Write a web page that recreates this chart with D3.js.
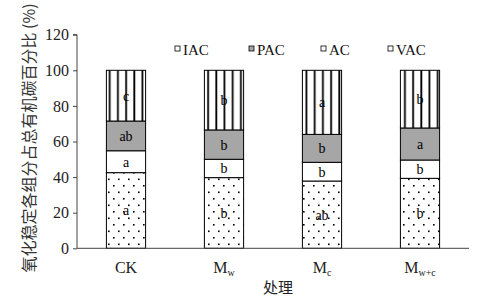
<!DOCTYPE html>
<html>
<head>
<meta charset="utf-8">
<script src="https://cdn.jsdelivr.net/npm/d3@7"></script>
<style>
  body { margin: 0; background: #fff; }
  svg text { font-family: "Liberation Serif", "Times New Roman", serif; }
</style>
</head>
<body>
<div id="chart"></div>
<script>
// data (cumulative stack of % of total organic carbon)
var treatments = ["CK", "Mw", "Mc", "Mw+c"];
var layers = ["VAC", "AC", "PAC", "IAC"];
var VAC = [42.5, 39.7, 37.8, 39.3];
var AC  = [12.3, 10.3, 10.5, 10.3];
var PAC = [16.7, 16.5, 15.7, 18.0];
var IAC = [28.5, 33.5, 36.0, 32.4];
var letters = {
  VAC: ["a", "b", "ab", "b"],
  AC:  ["a", "b", "b", "b"],
  PAC: ["ab", "b", "b", "a"],
  IAC: ["c", "b", "a", "b"]
};
var legendOrder = ["IAC", "PAC", "AC", "VAC"];
var yTicks = [0, 20, 40, 60, 80, 100, 120];

var W = 480, H = 300;
var svg = d3.select("#chart").append("svg").attr("width", W).attr("height", H);

var x = d3.scaleBand().domain(treatments).range([77, 469]).paddingInner(0.6).paddingOuter(0.3);
var y = d3.scaleLinear().domain([0, 120]).range([248.3, 34.7]);

// patterns
var defs = svg.append("defs");
var stripe = defs.append("pattern").attr("id", "stripes")
  .attr("patternUnits", "userSpaceOnUse").attr("width", 8.2).attr("height", 10).attr("x", 1);
stripe.append("rect").attr("width", 8.2).attr("height", 10).attr("fill", "#fff");
stripe.append("rect").attr("x", 1.2).attr("width", 1.8).attr("height", 10).attr("fill", "#000");

var dots = defs.append("pattern").attr("id", "dots")
  .attr("patternUnits", "userSpaceOnUse").attr("width", 10).attr("height", 13).attr("x", 2).attr("y", 2);
dots.append("rect").attr("width", 10).attr("height", 13).attr("fill", "#fff");
dots.append("rect").attr("x", 1).attr("y", 1).attr("width", 1.6).attr("height", 1.6).attr("fill", "#000");
dots.append("rect").attr("x", 6).attr("y", 7.5).attr("width", 1.6).attr("height", 1.6).attr("fill", "#000");

var fills = { VAC: "url(#dots)", AC: "#fff", PAC: "#a6a6a6", IAC: "url(#stripes)" };
var series = { VAC: VAC, AC: AC, PAC: PAC, IAC: IAC };

var rows = treatments.map(function(t, i) {
  var r = { t: t };
  layers.forEach(function(l) { r[l] = series[l][i]; });
  return r;
});
var stack = d3.stack().keys(layers)(rows);

var g = svg.append("g");
stack.forEach(function(s) {
  var key = s.key;
  g.selectAll(".seg-" + key).data(s).enter().append("rect")
    .attr("x", function(d) { return x(d.data.t); })
    .attr("width", x.bandwidth())
    .attr("y", function(d) { return y(d[1]); })
    .attr("height", function(d) { return y(d[0]) - y(d[1]); })
    .attr("fill", fills[key])
    .attr("stroke", "#000").attr("stroke-width", 1);
  g.selectAll(".lab-" + key).data(s).enter().append("text")
    .attr("x", function(d) { return x(d.data.t) + x.bandwidth() / 2; })
    .attr("y", function(d) { return (y(d[0]) + y(d[1])) / 2 + 5; })
    .attr("text-anchor", "middle")
    .attr("font-size", 14)
    .attr("fill", "#000")
    .text(function(d, i) { return letters[key][i]; });
});

// axes
var yAxis = svg.append("g").attr("transform", "translate(77,0)")
  .call(d3.axisLeft(y).tickValues(yTicks).tickSize(4).tickPadding(4));
yAxis.selectAll("text").attr("font-size", 16).attr("fill", "#222")
  .style("font-family", "Liberation Serif, serif");
yAxis.selectAll("line,path").attr("stroke", "#444");
yAxis.select(".domain").attr("d", "M-4," + y(120) + "H0V" + y(0));

svg.append("line").attr("x1", 77).attr("x2", 469).attr("y1", y(0)).attr("y2", y(0))
  .attr("stroke", "#444");

// x labels with subscripts
var xl = svg.append("g");
treatments.forEach(function(t) {
  var tx = xl.append("text")
    .attr("x", x(t) + x.bandwidth() / 2)
    .attr("y", 273)
    .attr("text-anchor", "middle")
    .attr("font-size", 16)
    .attr("fill", "#222");
  if (t === "CK") { tx.text("CK"); }
  else {
    tx.append("tspan").text("M");
    tx.append("tspan").attr("font-size", 10).attr("dy", 3).text(t.slice(1));
  }
});

svg.append("text").attr("x", 278).attr("y", 293).attr("text-anchor", "middle")
  .attr("font-size", 15).attr("fill", "#222")
  .style("font-family", "Noto Sans CJK SC")
  .text("处理");

svg.append("text")
  .attr("transform", "translate(35,138) rotate(-90)")
  .attr("text-anchor", "middle")
  .attr("font-size", 16).attr("fill", "#333")
  .style("font-family", "Noto Sans CJK SC")
  .text("氧化稳定各组分占总有机碳百分比 (%)");

// legend
var legX = [175, 249, 321, 388];
var lg = svg.append("g");
legendOrder.forEach(function(k, i) {
  lg.append("rect").attr("x", legX[i]).attr("y", 46).attr("width", 5).attr("height", 5)
    .attr("fill", k === "PAC" ? "#a6a6a6" : "#fff").attr("stroke", "#000").attr("stroke-width", 0.8);
  lg.append("text").attr("x", legX[i] + 8).attr("y", 55)
    .attr("font-size", 15).attr("fill", "#111").text(k);
});
</script>
</body>
</html>
